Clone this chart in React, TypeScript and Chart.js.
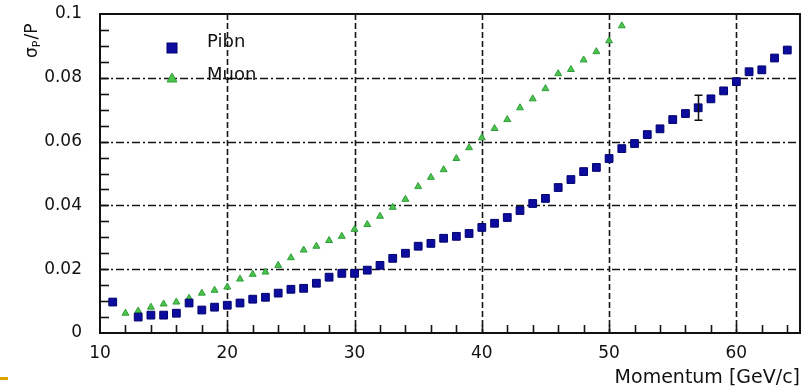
import React, { useEffect, useRef } from "react";
import { Chart, registerables } from "chart.js";

Chart.register(...registerables);

// ---- data ----
const pionMomentum = [11, 13, 14, 15, 16, 17, 18, 19, 20, 21, 22, 23, 24, 25, 26, 27, 28, 29, 30, 31, 32, 33, 34, 35, 36, 37, 38, 39, 40, 41, 42, 43, 44, 45, 46, 47, 48, 49, 50, 51, 52, 53, 54, 55, 56, 57, 58, 59, 60, 61, 62, 63, 64];
const pionResolution = [0.0097, 0.005, 0.0056, 0.0056, 0.0062, 0.0094, 0.0072, 0.0081, 0.0087, 0.0094, 0.0106, 0.0112, 0.0125, 0.0137, 0.014, 0.0156, 0.0175, 0.0187, 0.0187, 0.0197, 0.0212, 0.0234, 0.025, 0.0272, 0.0281, 0.0297, 0.0303, 0.0312, 0.0331, 0.0344, 0.0362, 0.0384, 0.0406, 0.0422, 0.0456, 0.0481, 0.0506, 0.0519, 0.0547, 0.0578, 0.0594, 0.0622, 0.064, 0.0669, 0.0688, 0.0706, 0.0734, 0.0759, 0.0788, 0.0819, 0.0825, 0.0862, 0.0887];

const muonMomentum = [12, 13, 14, 15, 16, 17, 18, 19, 20, 21, 22, 23, 24, 25, 26, 27, 28, 29, 30, 31, 32, 33, 34, 35, 36, 37, 38, 39, 40, 41, 42, 43, 44, 45, 46, 47, 48, 49, 50, 51];
const muonResolution = [0.0062, 0.0069, 0.0081, 0.0091, 0.0097, 0.0109, 0.0125, 0.0134, 0.0144, 0.0169, 0.0184, 0.0191, 0.0212, 0.0236, 0.026, 0.0272, 0.029, 0.0303, 0.0325, 0.034, 0.0366, 0.0394, 0.0419, 0.0459, 0.0488, 0.0512, 0.0547, 0.0581, 0.0612, 0.0641, 0.0669, 0.0706, 0.0734, 0.0766, 0.0813, 0.0826, 0.0856, 0.0882, 0.0916, 0.0963];

const errorBarMomentum = [57];
const errorBarValue = [0.0706];
const errorBarHalfWidth = [0.0039];

const seriesLabels = ["Pibn", "Muon"];
const xAxisTitle = "Momentum [GeV/c]";
const xMin = 10, xMax = 65, xMajorStep = 10, xMinorStep = 2;
const yMin = 0, yMax = 0.1, yMajorStep = 0.02, yMinorStep = 0.005;

const FONT = "'DejaVu Sans', 'Liberation Sans', sans-serif";
const PION_FILL = "#0c0c9e";
const PION_EDGE = "#03036e";
const MUON_FILL = "#4cc44c";
const MUON_EDGE = "#2f9e3a";

const framePlugin = {
  id: "rootFrame",
  beforeDatasetsDraw(chart: any) {
    const { ctx, chartArea, scales } = chart;
    const { left, right, top, bottom } = chartArea;
    const x = scales.x, y = scales.y;
    ctx.save();
    ctx.strokeStyle = "#151515";
    ctx.lineWidth = 1.6;
    // horizontal grid (dash-dot)
    ctx.setLineDash([8, 3, 2, 3]);
    for (const t of y.ticks) {
      if (t.value <= yMin + 1e-9 || t.value >= yMax - 1e-9) continue;
      const py = Math.round(y.getPixelForValue(t.value)) + 0.5;
      ctx.beginPath();
      ctx.moveTo(left, py);
      ctx.lineTo(right, py);
      ctx.stroke();
    }
    // vertical grid (dashed)
    ctx.setLineDash([6, 3]);
    for (const t of x.ticks) {
      if (t.value <= xMin + 1e-9 || t.value >= xMax - 1e-9) continue;
      const px = Math.round(x.getPixelForValue(t.value)) + 0.5;
      ctx.beginPath();
      ctx.moveTo(px, top);
      ctx.lineTo(px, bottom);
      ctx.stroke();
    }
    ctx.setLineDash([]);
    // minor ticks on x
    ctx.lineWidth = 1.6;
    for (let v = xMin + xMinorStep; v < xMax - 1e-9; v += xMinorStep) {
      const px = Math.round(x.getPixelForValue(v)) + 0.5;
      ctx.beginPath();
      ctx.moveTo(px, bottom);
      ctx.lineTo(px, bottom - 8);
      ctx.stroke();
    }
    // minor ticks on y
    for (let v = yMin + yMinorStep; v < yMax - 1e-9; v += yMinorStep) {
      const py = Math.round(y.getPixelForValue(v)) + 0.5;
      ctx.beginPath();
      ctx.moveTo(left, py);
      ctx.lineTo(left + 9, py);
      ctx.stroke();
    }
    // frame
    ctx.lineWidth = 2;
    ctx.strokeStyle = "#111";
    ctx.strokeRect(left, top, right - left, bottom - top);
    ctx.restore();
  },
  afterDatasetsDraw(chart: any) {
    const { ctx, scales } = chart;
    const x = scales.x, y = scales.y;
    ctx.save();
    // error bars
    ctx.strokeStyle = "#111";
    ctx.lineWidth = 1.5;
    errorBarMomentum.forEach((m, i) => {
      const px = Math.round(x.getPixelForValue(m)) + 0.5;
      const pHi = y.getPixelForValue(errorBarValue[i] + errorBarHalfWidth[i]);
      const pLo = y.getPixelForValue(errorBarValue[i] - errorBarHalfWidth[i]);
      ctx.beginPath();
      ctx.moveTo(px, pHi);
      ctx.lineTo(px, pLo);
      ctx.moveTo(px - 4, pHi);
      ctx.lineTo(px + 4, pHi);
      ctx.moveTo(px - 4, pLo);
      ctx.lineTo(px + 4, pLo);
      ctx.stroke();
    });

    // legend (inside frame, top-left)
    const lx = 172;
    ctx.fillStyle = PION_FILL;
    ctx.strokeStyle = PION_EDGE;
    ctx.lineWidth = 1;
    ctx.fillRect(lx - 5, 43, 10, 10);
    ctx.strokeRect(lx - 5, 43, 10, 10);
    ctx.fillStyle = MUON_FILL;
    ctx.strokeStyle = MUON_EDGE;
    ctx.beginPath();
    ctx.moveTo(lx - 5, 82);
    ctx.lineTo(lx + 5, 82);
    ctx.lineTo(lx, 73);
    ctx.closePath();
    ctx.fill();
    ctx.stroke();
    ctx.fillStyle = "#111";
    ctx.font = `18px ${FONT}`;
    ctx.textAlign = "left";
    ctx.textBaseline = "alphabetic";
    ctx.fillText(seriesLabels[0], 207, 47);
    ctx.fillText(seriesLabels[1], 207, 80);

    // y-axis title: sigma_P / P, rotated
    ctx.translate(37, 58);
    ctx.rotate(-Math.PI / 2);
    ctx.fillStyle = "#111";
    ctx.font = `17px ${FONT}`;
    let cx = 0;
    ctx.fillText("σ", cx, 0);
    cx += ctx.measureText("σ").width;
    ctx.font = `11px ${FONT}`;
    ctx.fillText("P", cx, 3);
    cx += ctx.measureText("P").width + 1;
    ctx.font = `17px ${FONT}`;
    ctx.fillText("/P", cx, 0);
    ctx.restore();
  },
};

export default function App() {
  const canvasRef = useRef<HTMLCanvasElement | null>(null);

  useEffect(() => {
    if (!canvasRef.current) return;
    const chart = new Chart(canvasRef.current, {
      type: "scatter",
      data: {
        datasets: [
          {
            label: seriesLabels[0],
            data: pionMomentum.map((m, i) => ({ x: m, y: pionResolution[i] })),
            pointStyle: "rect",
            pointRadius: 5.5,
            backgroundColor: PION_FILL,
            borderColor: PION_EDGE,
            borderWidth: 1,
            showLine: false,
          },
          {
            label: seriesLabels[1],
            data: muonMomentum.map((m, i) => ({ x: m, y: muonResolution[i] })),
            pointStyle: "triangle",
            pointRadius: 4,
            backgroundColor: MUON_FILL,
            borderColor: MUON_EDGE,
            borderWidth: 1,
            showLine: false,
          },
        ],
      },
      options: {
        responsive: false,
        animation: false,
        events: [],
        layout: { padding: { left: 0, top: 14, right: 9, bottom: 0 } },
        plugins: { legend: { display: false }, tooltip: { enabled: false } },
        scales: {
          x: {
            type: "linear",
            position: "bottom",
            min: xMin,
            max: xMax,
            afterFit: (s: any) => { s.height = 59; s.paddingLeft = 0; s.paddingRight = 0; },
            grid: { display: false, drawTicks: false },
            border: { display: false },
            ticks: {
              stepSize: xMajorStep,
              includeBounds: false,
              autoSkip: false,
              maxRotation: 0,
              padding: 10,
              color: "#111",
              font: { family: FONT, size: 17 },
            },
            title: {
              display: true,
              text: xAxisTitle,
              align: "end",
              color: "#111",
              font: { family: FONT, size: 19 },
              padding: { top: 0, bottom: 3 },
            },
          },
          y: {
            type: "linear",
            min: yMin,
            max: yMax,
            afterFit: (s: any) => { s.width = 100; s.paddingTop = 0; s.paddingBottom = 0; },
            grid: { display: false, drawTicks: false },
            border: { display: false },
            ticks: {
              stepSize: yMajorStep,
              includeBounds: false,
              padding: 18,
              color: "#111",
              font: { family: FONT, size: 17 },
              callback: (v: any) => String(Number(Number(v).toFixed(3))),
            },
          },
        },
      },
      plugins: [framePlugin],
    } as any);
    return () => chart.destroy();
  }, []);

  return (
    <div style={{ position: "absolute", left: 0, top: 0, width: 809, height: 392, background: "#fff" }}>
      <canvas ref={canvasRef} width={809} height={392} style={{ display: "block" }} />
      <div style={{ position: "absolute", left: 0, top: 377, width: 8, height: 3, background: "#d9a300" }} />
    </div>
  );
}
